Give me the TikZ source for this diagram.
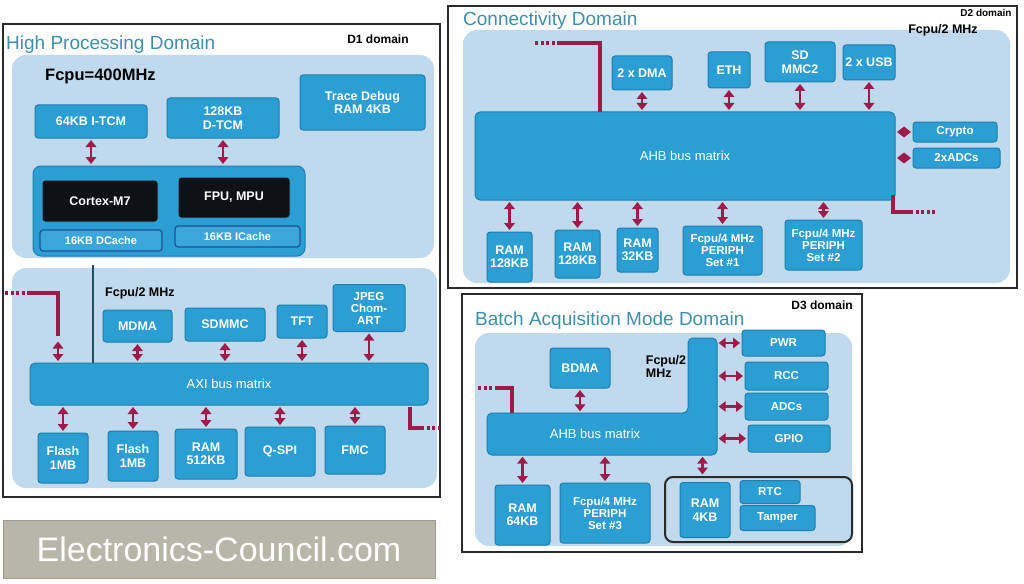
\documentclass[tikz,border=0pt]{standalone}
\usepackage{fontspec}
\setmainfont{Liberation Sans}
\usetikzlibrary{arrows.meta}
\definecolor{boxc}{HTML}{2B9ED3}
\definecolor{boxd}{HTML}{1B7FB3}
\definecolor{panelc}{HTML}{C0D9EC}
\definecolor{redc}{HTML}{9E1A4A}
\definecolor{titlec}{HTML}{3F8FAB}
\definecolor{coreblk}{HTML}{0E1217}
\definecolor{cachec}{HTML}{3AA6DA}
\definecolor{cached}{HTML}{1F4F95}
\definecolor{wmc}{HTML}{B8B5A9}
\definecolor{wmd}{HTML}{9E9B90}
\definecolor{framec}{HTML}{2A2A2A}
\definecolor{vlinec}{HTML}{1D4F60}
\begin{document}
\begin{tikzpicture}[x=1pt,y=-1pt,
  wh/.style 2 args={minimum width=#1pt,minimum height=#2pt},
  frame/.style={draw=framec,line width=1.6pt,fill=white,inner sep=0},
  panel/.style={fill=panelc,rounded corners=14pt,inner sep=0},
  blk/.style={draw=boxd,line width=1pt,fill=boxc,rounded corners=3pt,text=white,
    font=\fontsize{12.5}{13.5}\selectfont\bfseries,align=center,inner sep=0},
  small/.style={blk,font=\fontsize{11.5}{12}\selectfont\bfseries},
  bus/.style={blk,rounded corners=5pt,font=\fontsize{13}{14}\selectfont},
  core/.style={blk,fill=coreblk,draw=boxc,rounded corners=3pt,font=\fontsize{12.5}{13.5}\selectfont\bfseries},
  cache/.style={blk,fill=cachec,draw=cached,line width=1.2pt,font=\fontsize{11}{12}\selectfont\bfseries},
  title/.style={text=titlec,font=\fontsize{19}{20}\selectfont,anchor=west,inner sep=0},
  dom/.style={font=\fontsize{12}{13}\selectfont\bfseries,inner sep=0},
  clk/.style={font=\fontsize{12.5}{13}\selectfont\bfseries,inner sep=0,align=left},
  dar/.style={redc,line width=2.6pt,{Triangle[length=7pt,width=10.5pt]}-{Triangle[length=7pt,width=10.5pt]},shorten <=1.5pt,shorten >=1.5pt},
  redl/.style={redc,line width=3.4pt},
  redd/.style={redc,line width=3.4pt,dash pattern=on 3pt off 2.6pt}]
\useasboundingbox (0,0) rectangle (1024,583);
\fill[white] (0,0) rectangle (1024,583);

% ===== D1 =====
\node[frame,wh={437}{473}] (d1) at (221.5,260.5) {};
\node[title] (t1) at (6,45) {High Processing Domain};
\node[dom] (d1l) at (378,39) {D1 domain};
\node[panel,wh={422}{203}] (p1a) at (223,156.5) {};
\node[clk,anchor=west,font=\fontsize{16.5}{17}\selectfont\bfseries] (f1) at (45,76) {Fcpu=400MHz};
\node[blk,wh={112}{33}] (itcm) at (91,121.5) {64KB I-TCM};
\node[blk,wh={112}{40}] (dtcm) at (223,118) {128KB\\D-TCM};
\node[blk,wh={125}{55}] (trace) at (362.5,102.5) {Trace Debug\\RAM 4KB};
\node[blk,rounded corners=8pt,wh={272}{90}] (cgrp) at (169,211) {};
\node[core,wh={116}{42}] (cortex) at (100,201) {Cortex-M7};
\node[core,wh={112}{41}] (fpu) at (234,197.5) {FPU, MPU};
\node[cache,wh={122}{21}] (dcache) at (101,240.5) {16KB DCache};
\node[cache,wh={125}{21}] (icache) at (237.5,236.5) {16KB ICache};
\draw[dar] (itcm.south) -- (itcm.south |- cgrp.north);
\draw[dar] (dtcm.south) -- (dtcm.south |- cgrp.north);

\node[panel,wh={425}{220}] (p1b) at (224.5,378) {};
\node[clk,anchor=west] (f2) at (105,293) {Fcpu/2 MHz};
\node[blk,wh={69}{32}] (mdma) at (137.5,326) {MDMA};
\node[blk,wh={80}{33}] (sdmmc) at (225,324.5) {SDMMC};
\node[blk,wh={50}{33}] (tft) at (302,321.5) {TFT};
\node[small,wh={72}{47}] (jpeg) at (369,308) {JPEG\\Chom-\\ART};
\node[bus,wh={398}{42}] (axi) at (229,384) {AXI bus matrix};
\draw[vlinec,line width=1.8pt] (93,265) -- (93,363);
\node[blk,wh={50}{50}] (fl1) at (63,458) {Flash\\1MB};
\node[blk,wh={50}{50}] (fl2) at (133,456) {Flash\\1MB};
\node[blk,wh={62}{50}] (ram512) at (206,454) {RAM\\512KB};
\node[blk,wh={70}{49}] (qspi) at (280,451.5) {Q-SPI};
\node[blk,wh={60}{48}] (fmc) at (355,450) {FMC};
\foreach \n in {mdma,sdmmc,tft,jpeg} \draw[dar] (\n.south) -- (\n.south |- axi.north);
\foreach \n in {fl1,fl2,ram512,qspi,fmc} \draw[dar] (\n.north) -- (\n.north |- axi.south);
\coordinate (r1a) at (5,293);
\coordinate (r1b) at (30,293);
\coordinate (r1c) at (58,336);
\draw[redd] (r1a) -- (r1b);
\draw[redl] (r1b) -- (58,293) -- (r1c);
\coordinate (r1d) at (58,340);
\draw[dar] (r1d) -- (r1d |- axi.north);
\coordinate (r2a) at (410,407);
\coordinate (r2b) at (421,428);
\coordinate (r2c) at (440,428);
\draw[redl] (r2a) -- (410,428) -- (r2b);
\draw[redd] (r2b) -- (r2c);

% ===== D2 =====
\node[frame,wh={569}{282}] (d2) at (732.5,147) {};
\node[title] (t2) at (463,21) {Connectivity Domain};
\node[dom,font=\fontsize{10}{11}\selectfont\bfseries] (d2l) at (986,13) {D2 domain};
\node[panel,wh={547}{253}] (p2) at (736.5,156.5) {};
\node[clk] (f3) at (943,30) {Fcpu/2 MHz};
\node[blk,wh={60}{34}] (dma2) at (642,73) {2 x DMA};
\node[blk,wh={42}{36}] (eth) at (729,70) {ETH};
\node[blk,wh={70}{40}] (sdm2) at (800,62) {SD\\MMC2};
\node[blk,wh={52}{35}] (usb) at (869,62.5) {2 x USB};
\node[bus,wh={420}{88}] (ahb) at (685,156) {AHB bus matrix};
\node[small,wh={84}{20}] (crypto) at (955,132) {Crypto};
\node[small,wh={87}{20}] (adc2) at (956.5,158) {2xADCs};
\foreach \n in {dma2,eth,sdm2,usb} \draw[dar] (\n.south) -- (\n.south |- ahb.north);
\draw[dar] (crypto.west) -- (crypto.west -| ahb.east);
\draw[dar] (adc2.west) -- (adc2.west -| ahb.east);
\node[blk,wh={45}{50}] (r128a) at (509.5,257) {RAM\\128KB};
\node[blk,wh={45}{48}] (r128b) at (577.5,254) {RAM\\128KB};
\node[blk,wh={41}{44}] (r32) at (637.5,250) {RAM\\32KB};
\node[small,wh={79}{49}] (per1) at (722.5,250.5) {Fcpu/4 MHz\\PERIPH\\Set \#1};
\node[small,wh={77}{50}] (per2) at (823.5,245) {Fcpu/4 MHz\\PERIPH\\Set \#2};
\foreach \n in {r128a,r128b,r32,per1,per2} \draw[dar] (\n.north) -- (\n.north |- ahb.south);
\coordinate (r3a) at (535,43);
\coordinate (r3b) at (560,43);
\coordinate (r3c) at (600,112);
\draw[redd] (r3a) -- (r3b);
\draw[redl] (r3b) -- (600,43) -- (r3c);
\coordinate (r4a) at (893,195);
\coordinate (r4b) at (910,212);
\coordinate (r4c) at (936,212);
\draw[redl] (r4a) -- (893,212) -- (r4b);
\draw[redd] (r4b) -- (r4c);

% ===== D3 =====
\node[frame,wh={400}{258}] (d3) at (662,423) {};
\node[title] (t3) at (475,321) {Batch Acquisition Mode Domain};
\node[dom] (d3l) at (822,305) {D3 domain};
\node[panel,wh={377}{213}] (p3) at (663.5,439.5) {};
\fill[boxc,draw=boxd,line width=1pt,rounded corners=5pt] (487,413) -- (688,413) -- (688,338) -- (717,338) -- (717,455) -- (487,455) -- cycle;
\node[inner sep=0,wh={201}{42},text=white,font=\fontsize{13}{14}\selectfont] (ahb3) at (595,434) {AHB bus matrix};
\node[inner sep=0,wh={29}{117}] (ahb3v) at (702.5,396.5) {};
\node[clk] (f4) at (666,366) {Fcpu/2\\MHz};
\node[blk,wh={60}{40}] (bdma) at (580,368) {BDMA};
\draw[dar] (bdma.south) -- (bdma.south |- ahb3.north);
\node[small,wh={83}{26}] (pwr) at (783.5,343) {PWR};
\node[small,wh={83}{28}] (rcc) at (786.5,376) {RCC};
\node[small,wh={83}{27}] (adc3) at (786.5,406.5) {ADCs};
\node[small,wh={82}{27}] (gpio) at (789,438.5) {GPIO};
\foreach \n in {pwr,rcc,adc3,gpio} \draw[dar] (\n.west) -- (\n.west -| ahb3v.east);
\coordinate (r5a) at (478,388);
\coordinate (r5b) at (498,388);
\coordinate (r5c) at (512,413);
\draw[redd] (r5a) -- (r5b);
\draw[redl] (r5b) -- (512,388) -- (r5c);
\node[blk,wh={55}{60}] (r64) at (522.5,515) {RAM\\64KB};
\node[small,wh={90}{60}] (per3) at (605,513) {Fcpu/4 MHz\\PERIPH\\Set \#3};
\node[draw=framec,line width=2pt,rounded corners=8pt,inner sep=0,wh={187}{65}] (bkgrp) at (758.5,509.5) {};
\node[blk,wh={50}{55}] (r4k) at (705,510) {RAM\\4KB};
\node[small,wh={60}{23}] (rtc) at (770,492) {RTC};
\node[small,wh={75}{25}] (tamper) at (777.5,518) {Tamper};
\draw[dar] (r64.north) -- (r64.north |- ahb3.south);
\draw[dar] (per3.north) -- (per3.north |- ahb3.south);
\draw[dar] (ahb3v.south) -- (ahb3v.south |- bkgrp.north);

% ===== watermark =====
\node[fill=wmc,draw=wmd,line width=1pt,inner sep=0,wh={432}{58},text=white,
  font=\fontsize{34}{36}\selectfont] (wm) at (219,549) {Electronics-Council.com};
\end{tikzpicture}
\end{document}
